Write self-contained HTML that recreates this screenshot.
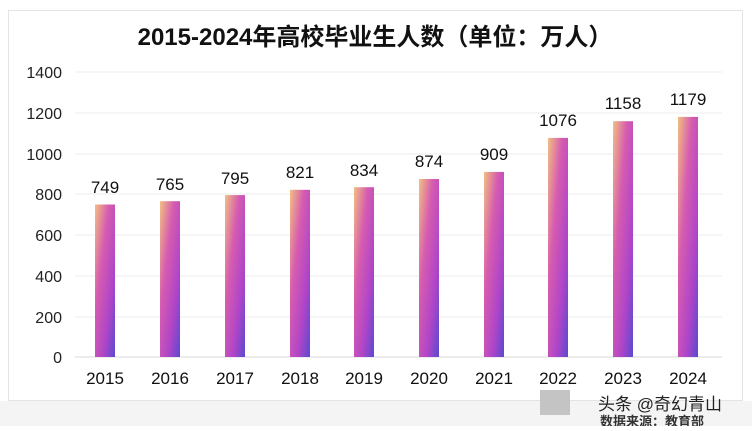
<!DOCTYPE html>
<html><head><meta charset="utf-8"><style>
body{margin:0;background:#fff;}
svg text{font-family:"Liberation Sans","Noto Sans CJK SC",sans-serif;}
</style></head><body>
<svg width="752" height="426" viewBox="0 0 752 426" xmlns="http://www.w3.org/2000/svg">
<defs>
<linearGradient id="g" x1="0" y1="0" x2="1" y2="1" gradientUnits="objectBoundingBox">
<stop offset="0" stop-color="#f2bf82"/>
<stop offset="0.35" stop-color="#d65cb0"/>
<stop offset="0.7" stop-color="#b045c8"/>
<stop offset="1" stop-color="#5a4ad0"/>
</linearGradient>
<linearGradient id="h" x1="0" y1="0" x2="1" y2="0">
<stop offset="0" stop-color="#fff" stop-opacity="0.25"/>
<stop offset="0.6" stop-color="#fff" stop-opacity="0"/>
<stop offset="1" stop-color="#3a30b0" stop-opacity="0.35"/>
</linearGradient>
</defs>
<rect x="8.5" y="10.5" width="734" height="390" fill="#fff" stroke="#e4e4e4"/>
<rect x="0" y="401" width="752" height="25" fill="#f4f4f4"/>
<text x="375" y="45" font-size="24" font-weight="bold" text-anchor="middle" fill="#111">2015-2024年高校毕业生人数（单位：万人）</text>
<g stroke="#ececec" stroke-width="1">
<line x1="75" x2="722" y1="72" y2="72"/><line x1="75" x2="722" y1="113" y2="113"/>
<line x1="75" x2="722" y1="154" y2="154"/><line x1="75" x2="722" y1="194" y2="194"/>
<line x1="75" x2="722" y1="235" y2="235"/><line x1="75" x2="722" y1="276" y2="276"/>
<line x1="75" x2="722" y1="317" y2="317"/><line x1="75" x2="722" y1="357" y2="357" stroke="#d8d8d8"/>
</g>
<g font-size="16" fill="#222" text-anchor="end">
<text x="62" y="78">1400</text><text x="62" y="119">1200</text><text x="62" y="160">1000</text>
<text x="62" y="200">800</text><text x="62" y="241">600</text><text x="62" y="282">400</text>
<text x="62" y="323">200</text><text x="62" y="363">0</text>
</g>
<g id="bars"></g>
<g font-size="17" fill="#111" text-anchor="middle">
<rect x="95" y="204.5" width="20" height="152.5" fill="url(#g)"/><text x="105" y="193">749</text><text x="105" y="384">2015</text>
<rect x="160" y="201.2" width="20" height="155.8" fill="url(#g)"/><text x="170" y="190">765</text><text x="170" y="384">2016</text>
<rect x="225" y="195.1" width="20" height="161.9" fill="url(#g)"/><text x="235" y="184">795</text><text x="235" y="384">2017</text>
<rect x="290" y="189.8" width="20" height="167.2" fill="url(#g)"/><text x="300" y="178">821</text><text x="300" y="384">2018</text>
<rect x="354" y="187.2" width="20" height="169.8" fill="url(#g)"/><text x="364" y="176">834</text><text x="364" y="384">2019</text>
<rect x="419" y="179.0" width="20" height="178.0" fill="url(#g)"/><text x="429" y="167">874</text><text x="429" y="384">2020</text>
<rect x="484" y="171.9" width="20" height="185.1" fill="url(#g)"/><text x="494" y="160">909</text><text x="494" y="384">2021</text>
<rect x="548" y="137.9" width="20" height="219.1" fill="url(#g)"/><text x="558" y="126">1076</text><text x="558" y="384">2022</text>
<rect x="613" y="121.2" width="20" height="235.8" fill="url(#g)"/><text x="623" y="109">1158</text><text x="623" y="384">2023</text>
<rect x="678" y="116.9" width="20" height="240.1" fill="url(#g)"/><text x="688" y="105">1179</text><text x="688" y="384">2024</text>
</g>
<rect x="540" y="390" width="30" height="25" fill="#c4c4c4"/>
<text x="598" y="410" font-size="17" fill="#222">头条 @奇幻青山</text>
<text x="600" y="426" font-size="13" font-weight="bold" fill="#333">数据来源：教育部</text>
</svg>
</body></html>
